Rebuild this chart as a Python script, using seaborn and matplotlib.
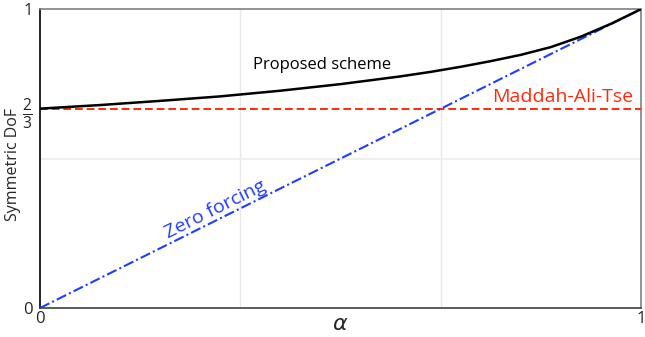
import matplotlib
matplotlib.use("Agg")
import matplotlib.pyplot as plt
import seaborn as sns
import pandas as pd

# Symmetric DoF versus alpha for the three schemes
alpha_proposed = [0.0, 0.1, 0.2, 0.3, 0.4, 0.5, 0.6, 0.65, 0.7, 0.75, 0.8,
                  0.85, 0.9, 0.95, 1.0]
dof_proposed = [0.667, 0.679, 0.693, 0.708, 0.727, 0.749, 0.775, 0.790, 0.807,
                0.826, 0.847, 0.873, 0.908, 0.951, 1.0]

alpha_mat = [0.0, 1.0]
dof_mat = [2 / 3, 2 / 3]

alpha_zf = [0.0, 1.0]
dof_zf = [0.0, 1.0]

x_ticks = [0, 1]
x_tick_labels = ["0", "1"]
y_ticks = [0, 2 / 3, 1]
y_tick_labels = ["0", r"$\mathdefault{\frac{2}{3}}$", "1"]

sns.set_theme(style="white")
plt.rcParams["font.family"] = ["Open Sans", "DejaVu Sans"]
plt.rcParams["mathtext.fontset"] = "dejavusans"

fig = plt.figure(figsize=(6.45, 3.37), dpi=100)
ax = fig.add_axes([0.062, 0.086, 0.932, 0.887])

df_p = pd.DataFrame({"alpha": alpha_proposed, "dof": dof_proposed})
df_m = pd.DataFrame({"alpha": alpha_mat, "dof": dof_mat})
df_z = pd.DataFrame({"alpha": alpha_zf, "dof": dof_zf})

sns.lineplot(data=df_m, x="alpha", y="dof", ax=ax, color="#ff2a0a",
             linestyle=(0, (4, 2)), linewidth=1.4, zorder=3)
sns.lineplot(data=df_z, x="alpha", y="dof", ax=ax, color="#1f3dff",
             linestyle=(0, (5, 1.5, 1, 1.5)), linewidth=1.5, zorder=3)
sns.lineplot(data=df_p, x="alpha", y="dof", ax=ax, color="black",
             linewidth=1.8, zorder=4)

ax.set_xlim(0, 1)
ax.set_ylim(0, 1)

# faint reference grid
for gx in (1 / 3, 2 / 3):
    ax.axvline(gx, color="#e8e8e8", linewidth=1.0, zorder=0)
ax.axhline(0.5, color="#ececec", linewidth=1.2, zorder=0)

ax.set_xticks(x_ticks)
ax.set_xticklabels(x_tick_labels, fontsize=12)
ax.set_yticks(y_ticks)
ax.set_yticklabels(y_tick_labels, fontsize=12)
ax.get_yticklabels()[1].set_fontsize(16)
ax.tick_params(axis="both", length=0, pad=2)
ax.tick_params(axis="y", pad=5)

ax.set_xlabel(r"$\alpha$", fontsize=16, labelpad=-9)
ax.set_ylabel("Symmetric DoF", fontsize=11.5)
ax.yaxis.set_label_coords(-0.032, 0.48)

for side in ("top", "right"):
    ax.spines[side].set_color("#808080")
    ax.spines[side].set_linewidth(1.2)
ax.spines["left"].set_color("black")
ax.spines["left"].set_linewidth(1.2)
ax.spines["bottom"].set_color("#404040")
ax.spines["bottom"].set_linewidth(1.2)

ax.text(0.469, 0.813, "Proposed scheme", fontsize=12, color="black",
        ha="center", va="center")
ax.text(0.87, 0.706, "Maddah-Ali-Tse", fontsize=14, color="#ff2a0a",
        ha="center", va="center")
ax.text(0.291, 0.33, "Zero forcing", fontsize=14, color="#1f3dff",
        ha="center", va="center", rotation=26.4, rotation_mode="anchor")

fig.savefig("out.png", dpi=100)
